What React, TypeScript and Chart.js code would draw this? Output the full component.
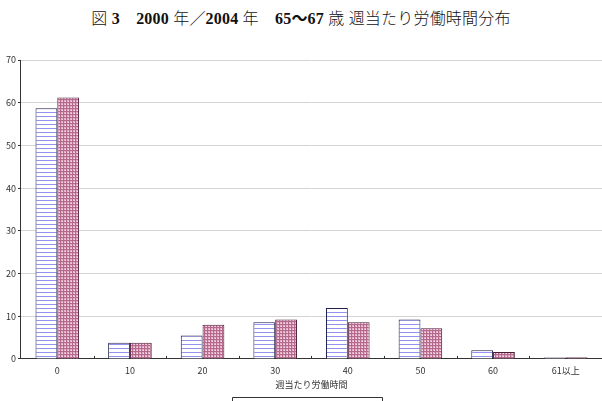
import React, { useEffect, useRef } from "react";
import { Chart, registerables } from "chart.js";

Chart.register(...registerables);

const categories = ["0", "10", "20", "30", "40", "50", "60", "61以上"];
const series2000 = [58.7, 3.8, 5.5, 8.6, 11.9, 9.2, 2.0, 0.3];
const series2004 = [61.2, 3.8, 8.0, 9.2, 8.6, 7.2, 1.6, 0.4];
const seriesNames = ["2000年", "2004年"];
const yTicks = [0, 10, 20, 30, 40, 50, 60, 70];
const xTitle = "週当たり労働時間";

function makeStripe(): CanvasPattern | string {
  const c = document.createElement("canvas");
  c.width = 4;
  c.height = 4;
  const g = c.getContext("2d");
  if (!g) return "#ddddff";
  g.fillStyle = "#ffffff";
  g.fillRect(0, 0, 4, 4);
  g.fillStyle = "#9494f0";
  g.fillRect(0, 0, 4, 1);
  return g.createPattern(c, "repeat") || "#ddddff";
}

function makeDots(): CanvasPattern | string {
  const c = document.createElement("canvas");
  c.width = 3;
  c.height = 3;
  const g = c.getContext("2d");
  if (!g) return "#c07898";
  g.fillStyle = "#e4b0c8";
  g.fillRect(0, 0, 3, 3);
  g.fillStyle = "#b4688c";
  g.fillRect(0, 0, 3, 1);
  g.fillRect(0, 0, 1, 3);
  g.fillStyle = "#f6dce8";
  g.fillRect(2, 2, 1, 1);
  return g.createPattern(c, "repeat") || "#c07898";
}

const innerTicks = {
  id: "innerTicks",
  afterDatasetsDraw(chart: any) {
    const ctx = chart.ctx;
    const x = chart.scales.x;
    const bottom = chart.chartArea.bottom;
    ctx.save();
    ctx.strokeStyle = "#333";
    ctx.lineWidth = 1;
    for (let i = 0; i < categories.length - 1; i++) {
      const px = Math.round((x.getPixelForValue(i) + x.getPixelForValue(i + 1)) / 2) + 0.5;
      ctx.beginPath();
      ctx.moveTo(px, bottom - 3);
      ctx.lineTo(px, bottom);
      ctx.stroke();
    }
    ctx.restore();
  },
};

const legendFrame = {
  id: "legendFrame",
  afterDraw(chart: any) {
    const ctx = chart.ctx;
    const cx = chart.width * 0.51;
    const w = 150;
    const top = chart.height - 3.5;
    ctx.save();
    ctx.strokeStyle = "#333";
    ctx.lineWidth = 1;
    ctx.beginPath();
    ctx.moveTo(Math.round(cx - w / 2) + 0.5, chart.height);
    ctx.lineTo(Math.round(cx - w / 2) + 0.5, top);
    ctx.lineTo(Math.round(cx + w / 2) + 0.5, top);
    ctx.lineTo(Math.round(cx + w / 2) + 0.5, chart.height);
    ctx.stroke();
    ctx.restore();
  },
};

export default function App() {
  const ref = useRef<HTMLCanvasElement>(null);

  useEffect(() => {
    if (!ref.current) return;
    const chart = new Chart(ref.current, {
      type: "bar",
      data: {
        labels: categories,
        datasets: [
          {
            label: seriesNames[0],
            data: series2000,
            backgroundColor: makeStripe() as any,
            borderColor: "#1e1e50",
            borderWidth: 1,
          },
          {
            label: seriesNames[1],
            data: series2004,
            backgroundColor: makeDots() as any,
            borderColor: "#4a1c34",
            borderWidth: 1,
          },
        ],
      },
      options: {
        animation: false,
        responsive: false,
        maintainAspectRatio: false,
        layout: { padding: { left: 4, right: 0, top: 60, bottom: 11.5 } },
        plugins: {
          legend: { display: false },
          tooltip: { enabled: false },
          title: { display: false },
        },
        datasets: { bar: { categoryPercentage: 0.6, barPercentage: 1 } },
        scales: {
          x: {
            grid: { display: false, drawTicks: false },
            border: { display: true, color: "#333", width: 1 },
            ticks: {
              padding: 6,
              color: "#333",
              font: { family: "'Noto Sans CJK JP', sans-serif", size: 9 },
            },
            title: {
              display: true,
              text: xTitle,
              color: "#333",
              padding: { top: -3, bottom: 0 },
              font: { family: "'Noto Sans CJK JP', sans-serif", size: 9 },
            },
          },
          y: {
            min: 0,
            max: 70,
            afterBuildTicks: (axis: any) => {
              axis.ticks = yTicks.map((v) => ({ value: v }));
            },
            grid: {
              color: "#d4d4d4",
              tickColor: "#333",
              tickLength: 3,
              drawTicks: true,
            },
            border: { display: true, color: "#333", width: 1 },
            ticks: {
              padding: 2,
              color: "#333",
              font: { family: "'Noto Sans CJK JP', sans-serif", size: 9 },
            },
          },
        },
      },
      plugins: [innerTicks, legendFrame],
    });
    return () => chart.destroy();
  }, []);

  const bold = { fontWeight: 700 };

  return (
    <div style={{ position: "fixed", left: 0, top: 0, width: 602, height: 401, background: "#fff", overflow: "hidden" }}>
      <div
        style={{
          position: "absolute",
          top: 9,
          left: 0,
          width: 602,
          textAlign: "center",
          fontFamily: "'Liberation Serif', 'Noto Sans CJK JP', serif",
          fontSize: 16,
          fontWeight: 300,
          letterSpacing: "0.2px",
          lineHeight: "20px",
          color: "#111",
          whiteSpace: "pre",
        }}
      >
        図 <span style={bold}>3</span>　<span style={bold}>2000</span> 年／<span style={bold}>2004</span> 年　<span style={bold}>65〜67</span> 歳 週当たり労働時間分布
      </div>
      <canvas ref={ref} width={602} height={401} style={{ position: "absolute", left: 0, top: 0 }} />
    </div>
  );
}
